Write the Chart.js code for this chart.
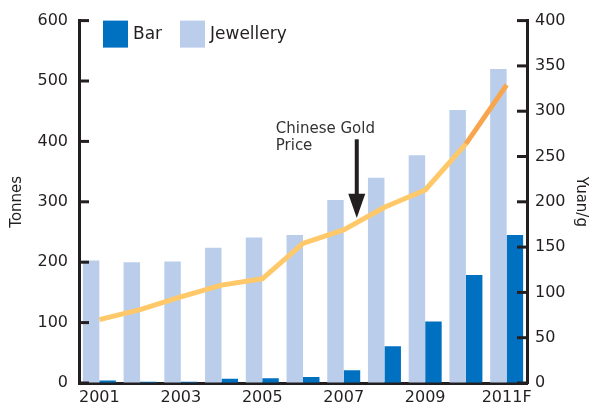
<!DOCTYPE html>
<html>
<head>
<meta charset="utf-8">
<script src="https://cdn.jsdelivr.net/npm/chart.js@4"></script>
<style>
  html, body { margin: 0; padding: 0; background: #fff; }
</style>
</head>
<body>
<canvas id="myChart" width="592" height="407"></canvas>
<script>
// data
var years = ['2001', '2002', '2003', '2004', '2005', '2006', '2007', '2008', '2009', '2010', '2011F'];
var jewellery = [203, 200, 201, 224, 241, 245, 303, 340, 377, 452, 520];
var barDemand = [4, 2, 2, 7, 8, 10, 21, 61, 102, 179, 245];
var goldPrice = [70, 81, 95, 108, 115, 154, 169, 194, 213, 264, 329];
var tonnesTicks = [0, 100, 200, 300, 400, 500, 600];
var yuanTicks = [0, 50, 100, 150, 200, 250, 300, 350, 400];

var ink = '#231F20';
var font = 'DejaVu Sans';

// inward tick marks on both value axes
var inwardTicks = {
  id: 'inwardTicks',
  afterDraw: function(chart) {
    var c = chart.ctx, area = chart.chartArea;
    c.save();
    c.strokeStyle = ink;
    c.lineWidth = 3;
    tonnesTicks.forEach(function(v) {
      var y = chart.scales.y.getPixelForValue(v);
      c.beginPath(); c.moveTo(area.left, y); c.lineTo(area.left + 10, y); c.stroke();
    });
    yuanTicks.forEach(function(v) {
      var y = chart.scales.y1.getPixelForValue(v);
      c.beginPath(); c.moveTo(area.right - 10, y); c.lineTo(area.right, y); c.stroke();
    });
    c.restore();
  }
};

// legend inside the plot, Bar first then Jewellery
var boxLegend = {
  id: 'boxLegend',
  afterDraw: function(chart) {
    var c = chart.ctx, area = chart.chartArea;
    var items = [chart.data.datasets[1], chart.data.datasets[0]];
    var x = area.left + 24;
    c.save();
    c.font = '17px "' + font + '"';
    c.textBaseline = 'middle';
    items.forEach(function(ds, i) {
      var bx = x + i * 77;
      c.fillStyle = ds.backgroundColor;
      c.fillRect(bx, area.top, 25, 27);
      c.fillStyle = ink;
      c.fillText(ds.label, bx + 30, area.top + 14);
    });
    c.restore();
  }
};

// "Chinese Gold Price" arrow
var priceNote = {
  id: 'priceNote',
  afterDatasetsDraw: function(chart) {
    var c = chart.ctx, xs = chart.scales.x, y1 = chart.scales.y1;
    var catW = xs.width / years.length;
    var ax = xs.getPixelForValue(6) + catW * 0.32;
    var top = y1.getPixelForValue(269);
    var headBase = y1.getPixelForValue(209);
    var tip = y1.getPixelForValue(182);
    c.save();
    c.fillStyle = '#333333';
    c.font = '15px "' + font + '"';
    c.fillText('Chinese Gold', ax - 81, y1.getPixelForValue(275.5));
    c.fillText('Price', ax - 81, y1.getPixelForValue(275.5) + 17);
    c.fillStyle = ink;
    c.fillRect(ax - 2, top, 4, headBase - top + 1);
    c.beginPath();
    c.moveTo(ax - 8.5, headBase);
    c.lineTo(ax + 8.5, headBase);
    c.lineTo(ax, tip);
    c.closePath();
    c.fill();
    c.restore();
  }
};

var ctx = document.getElementById('myChart').getContext('2d');
var myChart = new Chart(ctx, {
  type: 'bar',
  data: {
    labels: years,
    datasets: [{
        label: 'Jewellery',
        data: jewellery,
        backgroundColor: '#BACEEB',
        yAxisID: 'y',
        order: 1
      }, {
        label: 'Bar',
        data: barDemand,
        backgroundColor: '#0070C0',
        yAxisID: 'y',
        order: 1
      }, {
        type: 'line',
        label: 'Chinese Gold Price',
        data: goldPrice,
        borderColor: '#FFC868',
        borderWidth: 5,
        pointRadius: 0,
        tension: 0,
        borderJoinStyle: 'round',
        yAxisID: 'y1',
        order: 0,
        segment: {
          borderColor: function(s) { return s.p0DataIndex >= 9 ? '#F8A64E' : undefined; }
        }
      }
    ]
  },
  options: {
    responsive: false,
    animation: false,
    devicePixelRatio: 1,
    layout: { padding: { top: 20, left: 0, right: 0, bottom: 0 } },
    datasets: {
      bar: { categoryPercentage: 0.81, barPercentage: 1.0 }
    },
    plugins: {
      legend: { display: false },
      tooltip: { enabled: false }
    },
    scales: {
      x: {
        grid: { drawOnChartArea: false, drawTicks: false },
        border: { color: ink, width: 3 },
        afterFit: function(s) { s.height = 24; },
        ticks: {
          color: ink,
          font: { family: font, size: 16 },
          padding: 5,
          maxRotation: 0,
          autoSkip: false,
          callback: function(v, i) { return i % 2 === 0 ? years[i] : ''; }
        }
      },
      y: {
        position: 'left',
        min: 0,
        max: 600,
        grid: { drawOnChartArea: false, drawTicks: false },
        border: { color: ink, width: 3 },
        afterFit: function(s) { s.width = 79; },
        afterBuildTicks: function(s) { s.ticks = tonnesTicks.map(function(v) { return { value: v }; }); },
        ticks: { color: ink, font: { family: font, size: 16 }, padding: 11 },
        title: {
          display: true,
          text: 'Tonnes',
          color: ink,
          font: { family: font, size: 15 },
          padding: { top: 8, bottom: 0 }
        }
      },
      y1: {
        position: 'right',
        min: 0,
        max: 400,
        grid: { drawOnChartArea: false, drawTicks: false },
        border: { color: ink, width: 3 },
        afterFit: function(s) { s.width = 65; },
        afterBuildTicks: function(s) { s.ticks = yuanTicks.map(function(v) { return { value: v }; }); },
        ticks: { color: ink, font: { family: font, size: 16 }, padding: 8 },
        title: {
          display: true,
          text: 'Yuan/g',
          color: ink,
          font: { family: font, size: 15 },
          padding: { top: 2, bottom: 0 }
        }
      }
    }
  },
  plugins: [inwardTicks, boxLegend, priceNote]
});
</script>
</body>
</html>
